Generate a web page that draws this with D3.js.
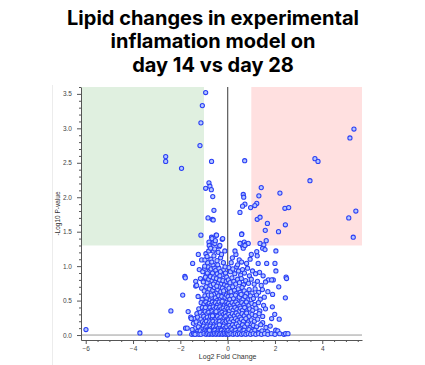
<!DOCTYPE html>
<html>
<head>
<meta charset="utf-8">
<script src="https://cdn.jsdelivr.net/npm/d3@7"></script>
<style>
  body { margin: 0; background: #fff; }
  svg { display: block; }
</style>
</head>
<body>
<div class="chart"></div>
<script>
'use strict';

const titleLines = ["Lipid changes in experimental", "inflamation model on", "day 14 vs day 28"];
const xLabel = "Log2 Fold Change";
const yLabel = "-Log10 P-value";
const xTicks = [-6, -4, -2, 0, 2, 4];
const yTicks = [0.0, 0.5, 1.0, 1.5, 2.0, 2.5, 3.0, 3.5];
const fcCutoff = 1;
const pCutoff = 1.3;

// [log2 fold change, -log10 p]
const significantDown = [
  [-0.93, 3.52], [-1.07, 3.33], [-1.13, 3.08], [-1.17, 2.75], [-2.62, 2.59], [-2.62, 2.52],
  [-1.95, 2.42], [-1.13, 1.45]
];
const significantUp = [
  [5.34, 2.99], [5.17, 2.86], [3.69, 2.56], [3.82, 2.52], [3.48, 2.24], [1.42, 2.14],
  [2.21, 2.06], [1.32, 2.02], [1.23, 1.91], [1.15, 1.88], [2.42, 1.84], [2.58, 1.85],
  [5.42, 1.80], [5.12, 1.70], [5.31, 1.42], [1.25, 1.68], [1.37, 1.71], [1.68, 1.62],
  [2.44, 1.60], [1.59, 1.52], [2.15, 1.50], [1.63, 1.37], [1.37, 1.33], [1.53, 1.31]
];
const upperLeft = [
  [-0.68, 2.52], [-0.79, 2.21], [-0.93, 2.13], [-0.75, 2.16], [-0.69, 2.11], [-0.63, 2.01],
  [-0.58, 1.81], [-0.83, 1.70], [-0.65, 1.68], [-0.61, 1.67], [-0.68, 1.42], [-0.49, 1.45],
  [-0.79, 1.35], [-0.75, 1.30], [-0.61, 1.34], [-0.23, 1.39], [-0.47, 1.45], [-0.21, 1.40],
  [-0.54, 1.33], [-0.78, 1.30], [-0.36, 1.28], [-0.61, 1.22], [-1.24, 1.17], [-1.10, 1.09],
  [-1.48, 1.04], [-0.92, 1.18], [-0.55, 1.25], [-0.40, 1.20], [-0.30, 1.12], [-0.71, 1.10],
  [-0.85, 1.05], [-0.62, 1.02], [-0.18, 1.05], [-0.45, 1.08], [-0.97, 1.00], [-0.33, 1.30],
  [-0.58, 1.15], [-0.12, 1.22], [-0.80, 1.22], [-0.66, 1.40], [-0.96, 1.09], [-0.11, 0.99],
  [-0.72, 1.26], [-0.52, 1.37], [-0.87, 1.14], [-0.26, 1.17], [-0.67, 1.06], [-0.42, 1.02]
];
const lowerLeft = [
  [-1.20, 0.95], [-1.05, 0.92], [-0.98, 0.97], [-0.90, 0.88], [-0.83, 0.99], [-0.77, 0.93],
  [-0.70, 0.96], [-0.64, 0.90], [-0.57, 0.98], [-0.50, 0.94], [-0.44, 0.89], [-0.37, 0.97],
  [-0.30, 0.92], [-0.24, 0.87], [-0.16, 0.95], [-0.09, 0.90], [-0.04, 0.84], [-1.15, 0.82],
  [-1.02, 0.78], [-0.94, 0.84], [-0.87, 0.76], [-0.80, 0.81], [-0.73, 0.85], [-0.66, 0.79],
  [-0.60, 0.83], [-0.53, 0.77], [-0.47, 0.82], [-0.40, 0.75], [-0.34, 0.80], [-0.27, 0.74],
  [-0.20, 0.79], [-0.13, 0.73], [-0.06, 0.78], [-1.10, 0.68], [-0.99, 0.64], [-0.91, 0.70],
  [-0.84, 0.62], [-0.78, 0.67], [-0.71, 0.72], [-0.63, 0.65], [-0.56, 0.69], [-0.49, 0.61],
  [-0.42, 0.66], [-0.35, 0.70], [-0.29, 0.63], [-0.22, 0.68], [-0.15, 0.60], [-0.08, 0.66],
  [-0.03, 0.71], [-1.25, 0.56], [-1.08, 0.52], [-0.96, 0.57], [-0.88, 0.53], [-0.81, 0.58],
  [-0.74, 0.51], [-0.67, 0.55], [-0.59, 0.59], [-0.52, 0.54], [-0.45, 0.50], [-0.38, 0.57],
  [-0.31, 0.52], [-0.25, 0.56], [-0.18, 0.51], [-0.11, 0.55], [-0.05, 0.58],
  [-1.12, 0.47], [-1.00, 0.45], [-0.92, 0.48], [-0.85, 0.44], [-0.78, 0.46], [-0.71, 0.43],
  [-0.65, 0.48], [-0.58, 0.45], [-0.51, 0.47], [-0.43, 0.44], [-0.36, 0.48], [-0.28, 0.45],
  [-0.21, 0.46], [-0.14, 0.43], [-0.07, 0.47], [-0.02, 0.44], [-1.22, 0.38], [-1.07, 0.40],
  [-0.97, 0.37], [-0.89, 0.41], [-0.82, 0.38], [-0.75, 0.40], [-0.68, 0.36], [-0.61, 0.41],
  [-0.54, 0.38], [-0.47, 0.40], [-0.40, 0.37], [-0.33, 0.41], [-0.26, 0.38], [-0.19, 0.39],
  [-0.12, 0.36], [-0.05, 0.40], [-1.30, 0.31], [-1.16, 0.33], [-1.04, 0.30], [-0.95, 0.34],
  [-0.87, 0.31], [-0.80, 0.33], [-0.73, 0.29], [-0.66, 0.34], [-0.59, 0.31], [-0.52, 0.33],
  [-0.45, 0.30], [-0.38, 0.34], [-0.31, 0.31], [-0.24, 0.33], [-0.17, 0.30], [-0.10, 0.32],
  [-0.03, 0.29], [-1.40, 0.24], [-1.27, 0.26], [-1.13, 0.23], [-1.01, 0.27], [-0.93, 0.24],
  [-0.86, 0.26], [-0.79, 0.22], [-0.72, 0.27], [-0.64, 0.24], [-0.57, 0.26], [-0.50, 0.23],
  [-0.43, 0.27], [-0.36, 0.24], [-0.29, 0.26], [-0.22, 0.22], [-0.15, 0.25], [-0.08, 0.27],
  [-0.02, 0.23], [-1.45, 0.17], [-1.33, 0.19], [-1.19, 0.16], [-1.06, 0.19], [-0.98, 0.17],
  [-0.90, 0.20], [-0.83, 0.16], [-0.76, 0.19], [-0.69, 0.17], [-0.62, 0.20], [-0.55, 0.16],
  [-0.48, 0.19], [-0.41, 0.17], [-0.34, 0.20], [-0.27, 0.16], [-0.20, 0.19], [-0.13, 0.17],
  [-0.06, 0.20], [-1.36, 0.10], [-1.24, 0.12], [-1.10, 0.09], [-1.02, 0.13], [-0.94, 0.10],
  [-0.88, 0.12], [-0.81, 0.09], [-0.74, 0.13], [-0.67, 0.10], [-0.60, 0.12], [-0.53, 0.09],
  [-0.46, 0.13], [-0.39, 0.10], [-0.32, 0.12], [-0.25, 0.09], [-0.18, 0.13], [-0.11, 0.10],
  [-0.04, 0.12], [-1.28, 0.05], [-1.16, 0.06], [-1.05, 0.04], [-0.96, 0.06], [-0.89, 0.05],
  [-0.82, 0.07], [-0.75, 0.04], [-0.68, 0.06], [-0.61, 0.05], [-0.54, 0.07], [-0.47, 0.04],
  [-0.40, 0.06], [-0.33, 0.05], [-0.26, 0.07], [-0.19, 0.04], [-0.12, 0.06], [-0.05, 0.05],
  [-1.52, 0.01], [-1.44, 0.02], [-1.38, 0.01], [-1.30, 0.02], [-1.22, 0.01], [-1.13, 0.01],
  [-1.00, 0.02], [-0.91, 0.01], [-0.84, 0.02], [-0.77, 0.01], [-0.70, 0.02], [-0.63, 0.01],
  [-0.56, 0.02], [-0.49, 0.01], [-0.42, 0.02], [-0.35, 0.01], [-0.28, 0.02], [-0.21, 0.01],
  [-0.14, 0.02], [-0.07, 0.01], [-0.01, 0.02], [-1.78, 0.10], [-1.71, 0.10], [-1.50, 0.08],
  [-1.67, 0.34], [-1.56, 0.26], [-1.54, 0.24], [-2.40, 0.35], [-1.90, 0.58], [-1.35, 0.78],
  [-1.35, 0.71], [-1.81, 0.85], [-1.79, 0.83], [-5.99, 0.08], [-3.71, 0.03], [-2.55, 0.00],
  [-2.02, 0.03], [-1.38, 0.01], [-1.03, 0.77], [-1.31, 0.72],
  [-0.86, 0.90], [-0.60, 0.74], [-0.33, 0.86], [-0.69, 0.58], [-0.46, 0.71], [-0.17, 0.64],
  [-0.94, 0.40], [-0.64, 0.28], [-0.35, 0.15], [-0.77, 0.07], [-0.49, 0.34], [-0.23, 0.49]
];
const upperRight = [
  [0.72, 2.53], [0.66, 2.04], [0.68, 2.00], [0.73, 1.90], [0.63, 1.87], [0.52, 1.78],
  [0.97, 1.85], [0.60, 1.47], [0.55, 1.33], [0.62, 1.30], [0.70, 1.35], [0.78, 1.32],
  [0.66, 1.26], [0.35, 1.17], [0.49, 1.09], [0.31, 1.22], [0.59, 1.46], [0.87, 1.33],
  [0.80, 1.04], [0.59, 1.06], [0.95, 1.10], [0.42, 1.02], [0.20, 1.12], [0.15, 1.05],
  [0.52, 1.33], [0.73, 1.30], [1.48, 1.26], [1.58, 1.24], [1.23, 1.21], [2.04, 1.22],
  [1.00, 1.17], [1.25, 1.15], [2.00, 1.04], [1.29, 1.04], [1.65, 1.04]
];
const lowerRight = [
  [2.04, 0.93], [2.47, 0.84], [2.49, 0.82], [1.72, 0.80], [1.93, 0.80], [1.86, 0.80],
  [2.16, 0.70], [1.90, 0.59], [2.44, 0.54], [0.05, 0.98], [0.12, 0.92], [0.22, 0.96],
  [0.30, 0.89], [0.38, 0.99], [0.46, 0.93], [0.55, 0.87], [0.63, 0.95], [0.71, 0.90],
  [0.84, 0.97], [0.92, 0.86], [1.05, 0.93], [1.18, 0.89], [1.35, 0.91], [1.50, 0.86],
  [0.03, 0.80], [0.10, 0.76], [0.18, 0.83], [0.26, 0.78], [0.34, 0.74], [0.42, 0.81],
  [0.50, 0.76], [0.58, 0.82], [0.67, 0.73], [0.76, 0.79], [0.88, 0.75], [1.00, 0.81],
  [1.12, 0.74], [1.26, 0.78], [1.42, 0.72], [1.60, 0.77], [0.06, 0.68], [0.14, 0.63],
  [0.21, 0.70], [0.29, 0.65], [0.37, 0.60], [0.45, 0.67], [0.53, 0.62], [0.61, 0.69],
  [0.70, 0.64], [0.80, 0.60], [0.91, 0.66], [1.03, 0.61], [1.16, 0.67], [1.31, 0.62],
  [1.47, 0.66], [1.70, 0.63], [0.02, 0.56], [0.09, 0.52], [0.17, 0.57], [0.25, 0.53],
  [0.33, 0.58], [0.41, 0.51], [0.49, 0.55], [0.57, 0.59], [0.65, 0.52], [0.74, 0.56],
  [0.85, 0.51], [0.96, 0.57], [1.09, 0.53], [1.22, 0.58], [1.38, 0.52], [1.55, 0.55],
  [0.04, 0.46], [0.11, 0.43], [0.19, 0.47], [0.27, 0.44], [0.35, 0.48], [0.43, 0.45],
  [0.52, 0.42], [0.60, 0.47], [0.69, 0.44], [0.79, 0.48], [0.90, 0.43], [1.02, 0.46],
  [1.15, 0.44], [1.30, 0.47], [1.52, 0.43], [1.89, 0.41], [0.02, 0.38], [0.08, 0.35],
  [0.15, 0.39], [0.23, 0.36], [0.31, 0.40], [0.39, 0.37], [0.47, 0.34], [0.55, 0.39],
  [0.63, 0.36], [0.72, 0.40], [0.82, 0.35], [0.93, 0.38], [1.06, 0.36], [1.20, 0.39],
  [1.36, 0.35], [1.60, 0.38], [0.05, 0.30], [0.12, 0.27], [0.20, 0.31], [0.28, 0.28],
  [0.36, 0.32], [0.44, 0.29], [0.52, 0.26], [0.61, 0.31], [0.70, 0.28], [0.80, 0.32],
  [0.91, 0.27], [1.03, 0.30], [1.17, 0.28], [1.33, 0.31], [1.99, 0.30], [1.48, 0.27],
  [0.03, 0.22], [0.09, 0.19], [0.17, 0.23], [0.25, 0.20], [0.33, 0.24], [0.41, 0.21],
  [0.49, 0.18], [0.58, 0.23], [0.67, 0.20], [0.77, 0.24], [0.88, 0.19], [1.00, 0.22],
  [1.13, 0.20], [1.27, 0.23], [1.48, 0.18], [1.86, 0.24], [2.18, 0.23], [0.06, 0.14],
  [0.13, 0.11], [0.21, 0.15], [0.29, 0.12], [0.37, 0.16], [0.45, 0.13], [0.54, 0.10],
  [0.63, 0.15], [0.72, 0.12], [0.83, 0.16], [0.95, 0.11], [1.08, 0.14], [1.22, 0.12],
  [1.40, 0.15], [1.62, 0.11], [1.80, 0.13], [0.02, 0.07], [0.10, 0.05], [0.18, 0.08],
  [0.26, 0.05], [0.34, 0.07], [0.42, 0.04], [0.51, 0.08], [0.60, 0.05], [0.69, 0.07],
  [0.79, 0.04], [0.90, 0.08], [1.02, 0.05], [1.15, 0.07], [1.29, 0.04], [1.45, 0.06],
  [1.68, 0.05], [2.03, 0.07], [2.12, 0.06], [0.05, 0.01], [0.14, 0.02], [0.23, 0.01],
  [0.32, 0.02], [0.41, 0.01], [0.50, 0.02], [0.59, 0.01], [0.68, 0.02], [0.77, 0.01],
  [0.87, 0.02], [0.97, 0.01], [1.08, 0.02], [1.19, 0.01], [1.31, 0.02], [1.43, 0.01],
  [1.56, 0.02], [1.70, 0.01], [1.85, 0.02], [2.00, 0.01], [2.20, 0.02], [2.38, 0.01],
  [2.45, 0.02], [2.55, 0.02]
];

(function() {
    const width = 425, height = 365;
    const margin = {top: 87, right: 63, bottom: 25, left: 81};

    const svg = d3.select('.chart').append('svg')
        .attr('width', width).attr('height', height);

    const x = d3.scaleLinear().domain([-6.2, 5.68]).range([margin.left, width - margin.right]);
    const y = d3.scaleLinear().domain([-0.072, 3.6]).range([height - margin.bottom, margin.top]);

    // title
    svg.append('g').selectAll('text')
        .data(titleLines).enter().append('text')
        .attr('x', 213)
        .attr('y', (d, i) => 24.5 + i * 23.5)
        .attr('text-anchor', 'middle')
        .style('font-family', 'Inter, "Noto Sans", sans-serif')
        .style('font-weight', 700)
        .style('font-size', '20px')
        .style('fill', '#000')
        .text(d => d);

    // faint panel border
    svg.append('line')
        .attr('x1', 52.5).attr('x2', 52.5).attr('y1', 85).attr('y2', height)
        .style('stroke', '#ececec').style('stroke-width', 1);

    // shaded significance zones
    svg.append('rect')
        .attr('x', x(-6.2)).attr('y', y(3.6))
        .attr('width', x(-fcCutoff) - x(-6.2)).attr('height', y(pCutoff) - y(3.6))
        .style('fill', '#e0f0e0');
    svg.append('rect')
        .attr('x', x(fcCutoff)).attr('y', y(3.6))
        .attr('width', x(5.68) - x(fcCutoff)).attr('height', y(pCutoff) - y(3.6))
        .style('fill', '#ffe0e0');

    // zero lines
    svg.append('line')
        .attr('x1', x(-6.2)).attr('x2', x(5.68)).attr('y1', y(0)).attr('y2', y(0))
        .style('stroke', '#9a9a9a').style('stroke-width', 1);
    svg.append('line')
        .attr('x1', x(0)).attr('x2', x(0)).attr('y1', y(3.6)).attr('y2', y(-0.072))
        .style('stroke', '#666').style('stroke-width', 1.3);

    // axes with minor ticks
    const xMinor = d3.range(-6, 5.6, 0.5).filter(v => Math.abs(v % 2) > 0.01);
    svg.append('g').attr('transform', 'translate(0,' + y(-0.072) + ')')
        .call(d3.axisBottom(x).tickValues(xMinor).tickSize(2).tickFormat(''))
        .call(g => g.select('.domain').remove())
        .selectAll('line').style('stroke', '#555');
    const xAxis = svg.append('g').attr('transform', 'translate(0,' + y(-0.072) + ')')
        .call(d3.axisBottom(x).tickValues(xTicks).tickSize(4).tickPadding(2).tickSizeOuter(0)
            .tickFormat(d3.format('d')));
    xAxis.select('.domain').style('stroke', '#555');
    xAxis.selectAll('line').style('stroke', '#555');
    xAxis.selectAll('text').style('font-family', 'Arial, "Liberation Sans", sans-serif')
        .style('font-size', '6.5px').style('fill', '#444');

    const yMinor = d3.range(0, 3.61, 0.1).filter(v => Math.abs((v * 2) - Math.round(v * 2)) > 0.01);
    svg.append('g').attr('transform', 'translate(' + x(-6.2) + ',0)')
        .call(d3.axisLeft(y).tickValues(yMinor).tickSize(2).tickFormat(''))
        .call(g => g.select('.domain').remove())
        .selectAll('line').style('stroke', '#555');
    const yAxis = svg.append('g').attr('transform', 'translate(' + x(-6.2) + ',0)')
        .call(d3.axisLeft(y).tickValues(yTicks).tickSize(4).tickPadding(5).tickSizeOuter(0)
            .tickFormat(d3.format('.1f')));
    yAxis.select('.domain').style('stroke', '#555');
    yAxis.selectAll('line').style('stroke', '#555');
    yAxis.selectAll('text').style('font-family', 'Arial, "Liberation Sans", sans-serif')
        .style('font-size', '6.5px').style('fill', '#444');

    // axis labels
    svg.append('text')
        .attr('x', x(0)).attr('y', 359)
        .style('text-anchor', 'middle')
        .style('font-family', 'Arial, "Liberation Sans", sans-serif')
        .style('font-size', '7px').style('fill', '#333')
        .text(xLabel);
    svg.append('text')
        .attr('transform', 'rotate(-90)')
        .attr('x', -(y(3.6) + y(-0.072)) / 2)
        .attr('y', 60)
        .style('text-anchor', 'middle')
        .style('font-family', 'Arial, "Liberation Sans", sans-serif')
        .style('font-size', '6.5px').style('fill', '#333')
        .text(yLabel);

    // points
    const allPoints = [].concat(lowerLeft, lowerRight, upperLeft, upperRight, significantDown, significantUp);
    svg.append('g').selectAll('circle')
        .data(allPoints).enter().append('circle')
        .attr('cx', d => x(d[0]))
        .attr('cy', d => y(d[1]))
        .attr('r', 2.1)
        .style('fill', '#b4c6ff')
        .style('stroke', '#2a3ff5')
        .style('stroke-width', 1.05);
})();
</script>
</body>
</html>
